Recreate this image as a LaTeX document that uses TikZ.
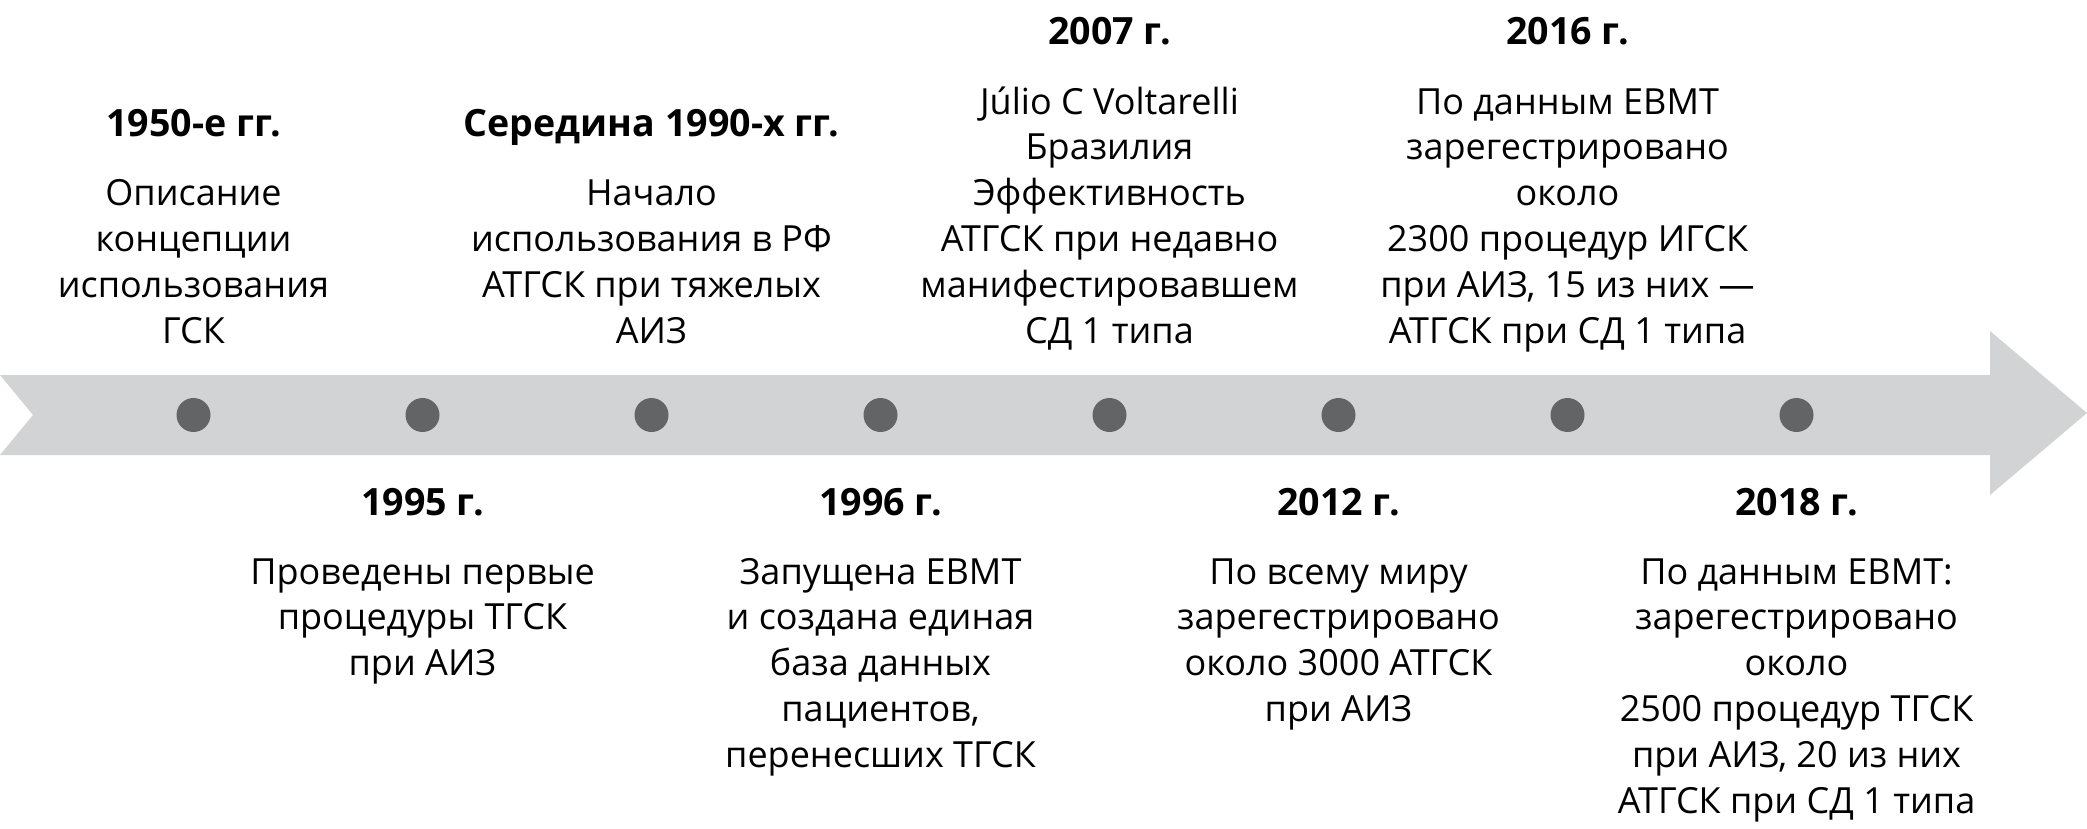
\documentclass[tikz,border=0pt]{standalone}
\usepackage{fontspec}
\setmainfont{Open Sans}
\definecolor{bandgray}{HTML}{D1D3D4}
\definecolor{dotgray}{HTML}{636466}
\begin{document}
\begin{tikzpicture}[x=0.5pt,y=-0.5pt,
  dot/.style={circle,fill=dotgray,minimum size=17pt,inner sep=0pt},
  head/.style={anchor=base,inner sep=0pt,font={\fontsize{18.8}{22.9}\selectfont\bfseries}},
  body/.style={anchor=base,inner sep=0pt,align=center,font={\fontsize{18}{22.9}\selectfont}}]
\useasboundingbox (0,0) rectangle (2087,829);
\fill[bandgray] (0,375) -- (1990,375) -- (1990,331) -- (2087,413) -- (1990,495) -- (1990,455) -- (0,455) -- (33,415) -- cycle;
\foreach \i in {1,...,8} \node[dot] (d\i) at ({193.5+229*(\i-1)},415) {};
% top columns (anchor base = last line)
\node[head] (h1) at (193.5,136) {1950-е гг.};
\node[body] (t1) at (193.5,343) {Описание\\концепции\\использования\\ГСК};
\node[head] (h3) at (651.5,136) {Середина 1990-х гг.};
\node[body] (t3) at (651.5,343) {Начало\\использования в РФ\\АТГСК при тяжелых\\АИЗ};
\node[head] (h5) at (1109.5,45) {2007 г.};
\node[body] (t5) at (1109.5,343) {Júlio C Voltarelli\\Бразилия\\Эффективность\\АТГСК при недавно\\манифестировавшем\\СД 1 типа};
\node[head] (h7) at (1567.5,45) {2016 г.};
\node[body] (t7) at (1567.5,343) {По данным EBMT\\зарегестрировано\\около\\2300 процедур ИГСК\\при АИЗ, 15 из них —\\АТГСК при СД 1 типа};
% bottom columns
\node[head] (h2) at (422.5,515) {1995 г.};
\node[body] (t2) at (422.5,675.6) {Проведены первые\\процедуры ТГСК\\при АИЗ};
\node[head] (h4) at (880.5,515) {1996 г.};
\node[body] (t4) at (880.5,767.2) {Запущена EBMT\\и создана единая\\база данных\\пациентов,\\перенесших ТГСК};
\node[head] (h6) at (1338.5,515) {2012 г.};
\node[body] (t6) at (1338.5,721.4) {По всему миру\\зарегестрировано\\около 3000 АТГСК\\при АИЗ};
\node[head] (h8) at (1796.5,515) {2018 г.};
\node[body] (t8) at (1796.5,813) {По данным EBMT:\\зарегестрировано\\около\\2500 процедур ТГСК\\при АИЗ, 20 из них\\АТГСК при СД 1 типа};
\end{tikzpicture}
\end{document}
